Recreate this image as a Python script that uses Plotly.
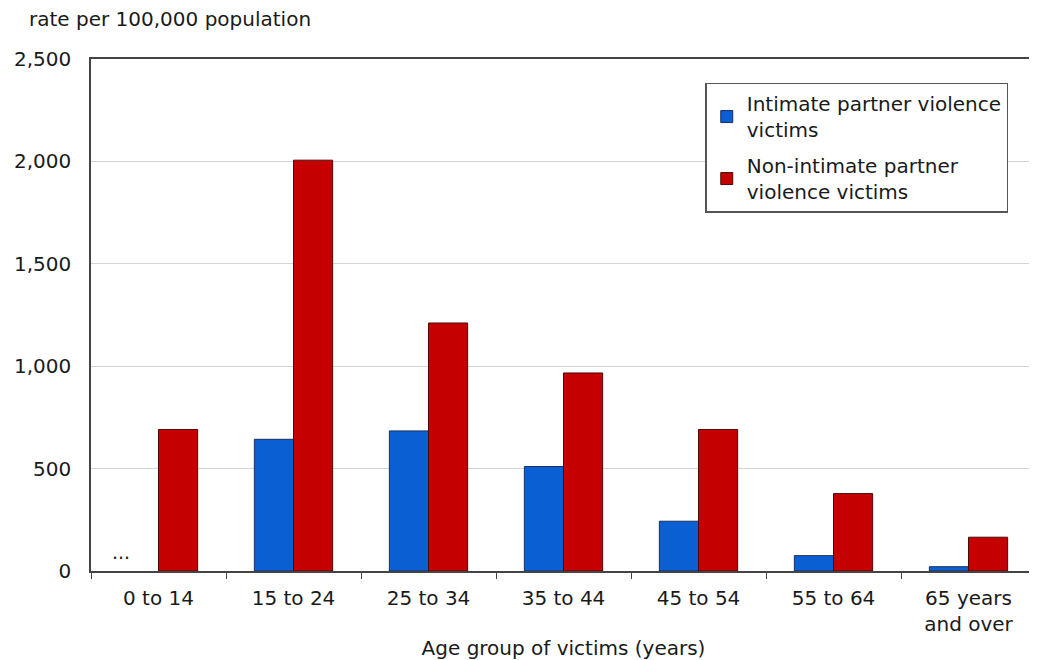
import plotly.graph_objects as go

categories = ["0 to 14", "15 to 24", "25 to 34", "35 to 44", "45 to 54", "55 to 64", "65 years<br>and over"]
intimate = [None, 643, 684, 510, 243, 75, 21]
non_intimate = [691, 2006, 1211, 967, 691, 378, 165]
y_ticks = [0, 500, 1000, 1500, 2000, 2500]
y_tick_labels = ["0", "500", "1,000", "1,500", "2,000", "2,500"]

FONT = "DejaVu Sans"
TXT = "#1a1a1a"

fig = go.Figure()
fig.add_trace(go.Bar(
    x=categories, y=intimate,
    name="Intimate partner violence<br>victims",
    legendgroup="a",
    marker=dict(color="#0a5fd2", line=dict(color="#1b2f5a", width=1)),
))
fig.add_trace(go.Bar(
    x=categories, y=non_intimate,
    name="Non-intimate partner<br>violence victims",
    legendgroup="b",
    marker=dict(color="#c40000", line=dict(color="#4a0a0a", width=1)),
))

fig.add_annotation(
    x=categories[0], y=0, xref="x", yref="y",
    text="...", showarrow=False, xshift=-38, yshift=6, yanchor="bottom",
    font=dict(family=FONT, size=19, color=TXT),
)

fig.update_layout(
    width=1029, height=652,
    paper_bgcolor="white", plot_bgcolor="white",
    margin=dict(l=83, r=1, t=51, b=89),
    barmode="group", bargap=0.42, bargroupgap=0,
    font=dict(family=FONT, size=20, color=TXT),
    title=dict(
        text="rate per 100,000 population",
        xref="container", yref="container",
        x=21 / 1029, xanchor="left", y=1 - 11 / 652, yanchor="middle",
        font=dict(family=FONT, size=20, color=TXT),
    ),
    legend=dict(
        x=0.650, y=0.954, xanchor="left", yanchor="top",
        bgcolor="white", bordercolor="#555555", borderwidth=1.5,
        font=dict(family=FONT, size=20, color=TXT),
        traceorder="grouped", tracegroupgap=7,
        itemwidth=30,
    ),
    xaxis=dict(
        showline=True, linecolor="#444444", linewidth=1.5, mirror=True,
        ticks="outside", tickson="boundaries", ticklen=6, tickcolor="#444444",
        showgrid=False, ticklabelstandoff=8,
        title=dict(text="Age group of victims (years)", font=dict(family=FONT, size=20, color=TXT), standoff=8),
        tickfont=dict(family=FONT, size=20, color=TXT),
    ),
    yaxis=dict(
        range=[0, 2500],
        tickvals=y_ticks, ticktext=y_tick_labels,
        showline=True, linecolor="#444444", linewidth=1.5,
        showgrid=True, gridcolor="#d4d4d4", gridwidth=1,
        ticks="", zeroline=False, ticklabelstandoff=14,
        tickfont=dict(family=FONT, size=20, color=TXT),
    ),
)

fig.write_html("out.html")
